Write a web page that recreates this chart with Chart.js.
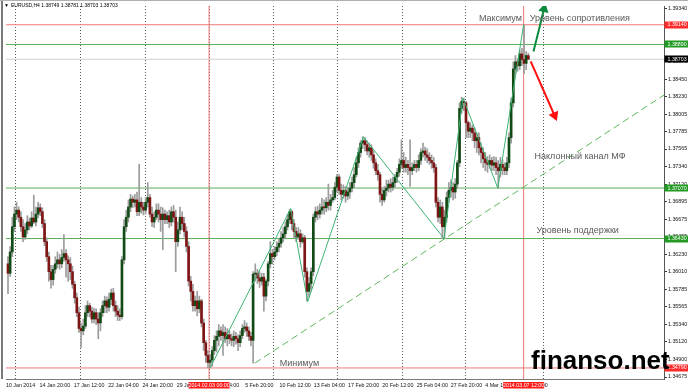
<!DOCTYPE html>
<html>
<head>
<meta charset="utf-8">
<script src="https://cdn.jsdelivr.net/npm/chart.js@4.4.1/dist/chart.umd.min.js"></script>
<style>
  html, body { margin: 0; padding: 0; background: #fff; }
  #wrap { width: 688px; height: 390px; position: relative; }
</style>
</head>
<body>
<div id="wrap"><canvas id="chart" width="688" height="390"></canvas></div>
<script>
// EURUSD H4, 10 Jan - 7 Mar 2014 (bar index = H4 candle number)
const symbol = 'EURUSD';
const timeframe = 'H4';

const openP = [
  1.3611,1.3599,1.3626,1.3658,1.3674,1.3679,1.3670,1.3658,1.3645,1.3654,
  1.3664,1.3659,1.3669,1.3664,1.3674,1.3682,1.3677,1.3662,1.3639,1.3620,
  1.3601,1.3591,1.3604,1.3611,1.3616,1.3611,1.3619,1.3624,1.3616,1.3611,
  1.3601,1.3585,1.3568,1.3549,1.3529,1.3526,1.3532,1.3549,1.3558,1.3551,
  1.3541,1.3549,1.3541,1.3536,1.3549,1.3558,1.3564,1.3556,1.3566,1.3574,
  1.3558,1.3551,1.3546,1.3544,1.3616,1.3658,1.3670,1.3683,1.3693,1.3689,
  1.3692,1.3677,1.3689,1.3683,1.3679,1.3689,1.3695,1.3674,1.3664,1.3670,
  1.3679,1.3674,1.3667,1.3674,1.3667,1.3672,1.3664,1.3677,1.3670,1.3639,
  1.3654,1.3670,1.3662,1.3652,1.3633,1.3589,1.3576,1.3558,1.3564,1.3554,
  1.3564,1.3536,1.3511,1.3495,1.3486,1.3489,1.3501,1.3514,1.3519,1.3526,
  1.3520,1.3524,1.3516,1.3521,1.3516,1.3514,1.3519,1.3516,1.3511,1.3520,
  1.3529,1.3531,1.3526,1.3519,1.3514,1.3598,1.3599,1.3593,1.3589,1.3594,
  1.3570,1.3589,1.3611,1.3624,1.3620,1.3626,1.3632,1.3637,1.3644,1.3649,
  1.3658,1.3667,1.3677,1.3662,1.3652,1.3645,1.3649,1.3639,1.3644,1.3601,
  1.3576,1.3586,1.3601,1.3670,1.3677,1.3674,1.3679,1.3683,1.3682,1.3689,
  1.3685,1.3692,1.3695,1.3708,1.3721,1.3704,1.3699,1.3704,1.3697,1.3702,
  1.3707,1.3714,1.3724,1.3739,1.3752,1.3764,1.3767,1.3762,1.3754,1.3758,
  1.3749,1.3739,1.3729,1.3724,1.3699,1.3692,1.3704,1.3707,1.3712,1.3708,
  1.3714,1.3721,1.3727,1.3737,1.3742,1.3733,1.3737,1.3733,1.3729,1.3733,
  1.3737,1.3733,1.3742,1.3752,1.3754,1.3749,1.3746,1.3742,1.3739,1.3733,
  1.3689,1.3670,1.3683,1.3658,1.3670,1.3695,1.3704,1.3708,1.3702,1.3712,
  1.3739,1.3808,1.3817,1.3815,1.3790,1.3779,1.3783,1.3777,1.3767,1.3771,
  1.3758,1.3752,1.3744,1.3739,1.3737,1.3742,1.3736,1.3739,1.3733,1.3729,
  1.3737,1.3733,1.3729,1.3739,1.3771,1.3815,1.3858,1.3867,1.3862,1.3877,
  1.3870,1.3865,1.38749
];
const highP = [
  1.3620,1.3633,1.3670,1.3683,1.3689,1.3683,1.3677,1.3667,1.3662,1.3672,
  1.3669,1.3677,1.3698,1.3683,1.3689,1.3687,1.3682,1.3667,1.3644,1.3626,
  1.3609,1.3609,1.3620,1.3626,1.3623,1.3629,1.3648,1.3629,1.3621,1.3619,
  1.3608,1.3589,1.3574,1.3556,1.3536,1.3541,1.3558,1.3564,1.3561,1.3556,
  1.3555,1.3554,1.3549,1.3554,1.3564,1.3570,1.3569,1.3574,1.3579,1.3580,
  1.3564,1.3558,1.3554,1.3620,1.3667,1.3679,1.3692,1.3699,1.3697,1.3699,
  1.3702,1.3737,1.3695,1.3689,1.3695,1.3714,1.3699,1.3683,1.3677,1.3687,
  1.3687,1.3683,1.3682,1.3679,1.3677,1.3679,1.3683,1.3685,1.3679,1.3664,
  1.3683,1.3677,1.3670,1.3658,1.3639,1.3595,1.3585,1.3570,1.3576,1.3570,
  1.3566,1.3541,1.3514,1.3501,1.3496,1.3506,1.3520,1.3526,1.3534,1.3531,
  1.3534,1.3531,1.3529,1.3526,1.3522,1.3526,1.3524,1.3521,1.3526,1.3534,
  1.3539,1.3536,1.3531,1.3524,1.3601,1.3611,1.3604,1.3601,1.3599,1.3599,
  1.3591,1.3614,1.3639,1.3629,1.3633,1.3639,1.3642,1.3652,1.3657,1.3664,
  1.3674,1.3680,1.3679,1.3667,1.3657,1.3657,1.3654,1.3649,1.3647,1.3606,
  1.3594,1.3606,1.3674,1.3683,1.3684,1.3687,1.3694,1.3692,1.3695,1.3712,
  1.3699,1.3704,1.3714,1.3724,1.3724,1.3712,1.3711,1.3709,1.3708,1.3714,
  1.3721,1.3733,1.3746,1.3758,1.3767,1.3772,1.3771,1.3767,1.3764,1.3762,
  1.3754,1.3744,1.3737,1.3727,1.3707,1.3709,1.3717,1.3717,1.3719,1.3721,
  1.3724,1.3732,1.3744,1.3768,1.3752,1.3746,1.3742,1.3768,1.3739,1.3742,
  1.3742,1.3749,1.3757,1.3764,1.3759,1.3757,1.3752,1.3749,1.3746,1.3737,
  1.3695,1.3692,1.3689,1.3679,1.3702,1.3714,1.3717,1.3714,1.3719,1.3742,
  1.3815,1.3822,1.3821,1.3817,1.3792,1.3790,1.3787,1.3783,1.3777,1.3777,
  1.3764,1.3758,1.3752,1.3747,1.3749,1.3746,1.3747,1.3746,1.3742,1.3746,
  1.3743,1.3739,1.3746,1.3777,1.3821,1.3867,1.3875,1.3871,1.3882,1.3884,
  1.3914,1.3880,1.38781
];
const lowP = [
  1.3573,1.3595,1.3620,1.3652,1.3667,1.3664,1.3652,1.3639,1.3642,1.3649,
  1.3654,1.3657,1.3662,1.3659,1.3669,1.3672,1.3657,1.3634,1.3614,1.3589,
  1.3580,1.3584,1.3599,1.3606,1.3604,1.3606,1.3614,1.3594,1.3589,1.3591,
  1.3580,1.3561,1.3544,1.3524,1.3505,1.3521,1.3529,1.3544,1.3544,1.3536,
  1.3536,1.3534,1.3516,1.3526,1.3544,1.3549,1.3549,1.3551,1.3559,1.3551,
  1.3544,1.3539,1.3539,1.3541,1.3611,1.3652,1.3664,1.3677,1.3682,1.3683,
  1.3672,1.3672,1.3675,1.3673,1.3674,1.3683,1.3670,1.3658,1.3657,1.3667,
  1.3664,1.3652,1.3629,1.3662,1.3662,1.3657,1.3659,1.3664,1.3601,1.3633,
  1.3649,1.3654,1.3645,1.3626,1.3583,1.3564,1.3551,1.3551,1.3545,1.3549,
  1.3531,1.3501,1.3486,1.3479,1.3479,1.3481,1.3496,1.3499,1.3507,1.3514,
  1.3495,1.3511,1.3507,1.3510,1.3507,1.3506,1.3509,1.3501,1.3506,1.3516,
  1.3524,1.3519,1.3514,1.3507,1.3485,1.3589,1.3586,1.3581,1.3584,1.3551,
  1.3564,1.3583,1.3606,1.3611,1.3616,1.3621,1.3626,1.3632,1.3639,1.3644,
  1.3654,1.3662,1.3654,1.3644,1.3639,1.3642,1.3632,1.3637,1.3594,1.3564,
  1.3569,1.3579,1.3596,1.3664,1.3667,1.3669,1.3674,1.3674,1.3677,1.3679,
  1.3679,1.3689,1.3692,1.3702,1.3699,1.3692,1.3694,1.3689,1.3692,1.3694,
  1.3702,1.3708,1.3721,1.3733,1.3746,1.3757,1.3754,1.3749,1.3746,1.3742,
  1.3732,1.3724,1.3717,1.3689,1.3685,1.3689,1.3697,1.3702,1.3702,1.3704,
  1.3708,1.3714,1.3722,1.3732,1.3727,1.3727,1.3724,1.3709,1.3724,1.3729,
  1.3727,1.3729,1.3737,1.3746,1.3742,1.3739,1.3737,1.3732,1.3727,1.3683,
  1.3664,1.3662,1.3643,1.3643,1.3664,1.3689,1.3695,1.3692,1.3694,1.3707,
  1.3734,1.3802,1.3805,1.3771,1.3771,1.3771,1.3767,1.3758,1.3752,1.3749,
  1.3739,1.3733,1.3729,1.3727,1.3732,1.3729,1.3729,1.3724,1.3707,1.3721,
  1.3724,1.3724,1.3724,1.3733,1.3764,1.3810,1.3852,1.3855,1.3857,1.3862,
  1.3852,1.3857,1.38703
];
const closeP = [
  1.3599,1.3626,1.3658,1.3674,1.3679,1.3670,1.3658,1.3645,1.3654,1.3664,
  1.3659,1.3669,1.3664,1.3674,1.3682,1.3677,1.3662,1.3639,1.3620,1.3601,
  1.3591,1.3604,1.3611,1.3616,1.3611,1.3619,1.3624,1.3616,1.3611,1.3601,
  1.3585,1.3568,1.3549,1.3529,1.3526,1.3532,1.3549,1.3558,1.3551,1.3541,
  1.3549,1.3541,1.3536,1.3549,1.3558,1.3564,1.3556,1.3566,1.3574,1.3558,
  1.3551,1.3546,1.3544,1.3616,1.3658,1.3670,1.3683,1.3693,1.3689,1.3692,
  1.3677,1.3689,1.3683,1.3679,1.3689,1.3695,1.3674,1.3664,1.3670,1.3679,
  1.3674,1.3667,1.3674,1.3667,1.3672,1.3664,1.3677,1.3670,1.3639,1.3654,
  1.3670,1.3662,1.3652,1.3633,1.3589,1.3576,1.3558,1.3564,1.3554,1.3564,
  1.3536,1.3511,1.3495,1.3486,1.3489,1.3501,1.3514,1.3519,1.3526,1.3520,
  1.3524,1.3516,1.3521,1.3516,1.3514,1.3519,1.3516,1.3511,1.3520,1.3529,
  1.3531,1.3526,1.3519,1.3514,1.3598,1.3599,1.3593,1.3589,1.3594,1.3570,
  1.3589,1.3611,1.3624,1.3620,1.3626,1.3632,1.3637,1.3644,1.3649,1.3658,
  1.3667,1.3677,1.3662,1.3652,1.3645,1.3649,1.3639,1.3644,1.3601,1.3576,
  1.3586,1.3601,1.3670,1.3677,1.3674,1.3679,1.3683,1.3682,1.3689,1.3685,
  1.3692,1.3695,1.3708,1.3721,1.3704,1.3699,1.3704,1.3697,1.3702,1.3707,
  1.3714,1.3724,1.3739,1.3752,1.3764,1.3767,1.3762,1.3754,1.3758,1.3749,
  1.3739,1.3729,1.3724,1.3699,1.3692,1.3704,1.3707,1.3712,1.3708,1.3714,
  1.3721,1.3727,1.3737,1.3742,1.3733,1.3737,1.3733,1.3729,1.3733,1.3737,
  1.3733,1.3742,1.3752,1.3754,1.3749,1.3746,1.3742,1.3739,1.3733,1.3689,
  1.3670,1.3683,1.3658,1.3670,1.3695,1.3704,1.3708,1.3702,1.3712,1.3739,
  1.3808,1.3817,1.3815,1.3790,1.3779,1.3783,1.3777,1.3767,1.3771,1.3758,
  1.3752,1.3744,1.3739,1.3737,1.3742,1.3736,1.3739,1.3733,1.3729,1.3737,
  1.3733,1.3729,1.3739,1.3771,1.3815,1.3858,1.3867,1.3862,1.3877,1.3870,
  1.3865,1.3875,1.38703
];

// price scale labels (right side)
const priceTicks = [1.39340,1.39120,1.38895,1.38670,1.38450,1.38230,1.38005,1.37785,1.37565,1.37340,1.37120,
                    1.36895,1.36675,1.36455,1.36230,1.36010,1.35785,1.35565,1.35340,1.35120,1.34900,1.34675];
// time scale labels, positions in bar index
const timeTickPos = [-0.93,14.68,30.60,46.57,62.50,78.47,94.40,110.32,126.30,142.22,158.15,174.07,190.05,205.97,221.94,237.87];
const timeLabels = ['10 Jan 2014','14 Jan 20:00','17 Jan 12:00','22 Jan 04:00','24 Jan 20:00','29 Jan 12:00','3 Feb 04:00',
                    '5 Feb 20:00','10 Feb 12:00','13 Feb 04:00','17 Feb 20:00','20 Feb 12:00','25 Feb 04:00','27 Feb 20:00',
                    '4 Mar 12:00','7 Mar 04:00'];
// weekly separators (dotted)
const weekGrid = [3.70,33.80,63.89,93.52,123.61,153.24,183.33,212.96,249.07];

// horizontal levels
const levelValues = [1.39140, 1.38890, 1.38703, 1.37070, 1.36430, 1.34790];
const levelKinds  = ['res', 'sup', 'bid', 'sup', 'sup', 'res'];
// vertical markers
const markerPos = [93.52, 239.81];
const markerLabels = ['2014.02.03 00:00', '2014.03.07 12:00'];

// zigzag (wave) points
const zigX = [94.0, 131.5, 139.4, 165.3, 202.8, 211.6, 227.8, 239.8];
const zigY = [1.3479, 1.3681, 1.3563, 1.3772, 1.3643, 1.3821, 1.3707, 1.3914];
// inclined channel line
const chanX = [114.8, 305.1];
const chanY = [1.34851, 1.38249];
// forecast arrows
const upX = [244.4, 249.3];
const upY = [1.3880, 1.3934];
const downX = [243.1, 254.2];
const downY = [1.38675, 1.3799];

const notes = [
  { text: 'Максимум', x: 219.0, y: 1.39215 },
  { text: 'Уровень сопротивления', x: 242.6, y: 1.39215 },
  { text: 'Наклонный канал МФ', x: 244.9, y: 1.37472 },
  { text: 'Уровень поддержки', x: 245.8, y: 1.36531 },
  { text: 'Минимум', x: 126.4, y: 1.34851 }
];

const X_MIN = -0.926, X_MAX = 305.09;
const Y_MIN = 1.346499, Y_MAX = 1.393776;
const FONT = '"Liberation Sans", Arial, sans-serif';
const levelColor = { res: '#f07878', sup: '#5aae5a', bid: '#cfcfcf' };
const boxColor = { res: '#ff2a2a', sup: '#239a23', bid: '#000000' };

const idx = closeP.map((_, i) => i);
const wickData = idx.map(i => ({ x: i, y: [lowP[i], highP[i]] }));
const bodyData = idx.map(i => ({ x: i, y: [openP[i], closeP[i]] }));

const datasets = [];
levelValues.forEach((v, k) => {
  datasets.push({
    type: 'line', order: 10, xAxisID: 'x', yAxisID: 'y',
    data: [{ x: X_MIN - 5, y: v }, { x: X_MAX + 5, y: v }],
    borderColor: levelColor[levelKinds[k]], borderWidth: 1, pointRadius: 0
  });
});
markerPos.forEach(p => {
  datasets.push({
    type: 'line', order: 10, xAxisID: 'x', yAxisID: 'y',
    data: [{ x: p, y: Y_MIN - 0.01 }, { x: p, y: Y_MAX + 0.01 }],
    borderColor: '#f07878', borderWidth: 1, pointRadius: 0
  });
});
datasets.push({
  type: 'bar', order: 8, xAxisID: 'x', yAxisID: 'y', data: wickData,
  backgroundColor: '#9c9c9c', barThickness: 1, grouped: false, borderWidth: 0
});
datasets.push({
  type: 'bar', order: 7, xAxisID: 'x', yAxisID: 'y', data: bodyData,
  backgroundColor: c => closeP[c.dataIndex] >= openP[c.dataIndex] ? '#114a14' : '#7e1515',
  barThickness: 2, grouped: false, borderWidth: 0, minBarLength: 1
});
datasets.push({
  type: 'line', order: 3, xAxisID: 'x', yAxisID: 'y',
  data: chanX.map((x, i) => ({ x, y: chanY[i] })),
  borderColor: '#5cb85c', borderWidth: 1, borderDash: [7, 4], pointRadius: 0
});
datasets.push({
  type: 'line', order: 2, xAxisID: 'x', yAxisID: 'y',
  data: zigX.map((x, i) => ({ x, y: zigY[i] })),
  borderColor: '#3cb371', borderWidth: 1, pointRadius: 0, tension: 0
});
datasets.push({
  type: 'line', order: 1, xAxisID: 'x', yAxisID: 'y',
  data: upX.map((x, i) => ({ x, y: upY[i] })),
  borderColor: '#0b8a3c', borderWidth: 2,
  pointRadius: [0, 4], pointStyle: 'triangle', pointRotation: [0, 13],
  pointBackgroundColor: '#0b8a3c', pointBorderColor: '#0b8a3c'
});
datasets.push({
  type: 'line', order: 1, xAxisID: 'x', yAxisID: 'y',
  data: downX.map((x, i) => ({ x, y: downY[i] })),
  borderColor: '#ff1010', borderWidth: 2,
  pointRadius: [0, 4], pointStyle: 'triangle', pointRotation: [0, 157],
  pointBackgroundColor: '#ff1010', pointBorderColor: '#ff1010'
});

const overlay = {
  id: 'overlay',
  afterDatasetsDraw(chart) {
    const { ctx, scales: { x, y } } = chart;
    ctx.save();
    ctx.font = '9px ' + FONT;
    ctx.fillStyle = '#5a5a5a';
    ctx.textAlign = 'left';
    ctx.textBaseline = 'middle';
    notes.forEach(n => ctx.fillText(n.text, x.getPixelForValue(n.x), y.getPixelForValue(n.y)));
    ctx.restore();
  },
  afterDraw(chart) {
    const { ctx, chartArea: a, scales: { x, y } } = chart;
    ctx.save();
    // frame
    ctx.fillStyle = '#7a7a7a';
    ctx.fillRect(1, 0, 2, a.bottom);
    ctx.fillStyle = '#b0b0b0';
    ctx.fillRect(0, 0, chart.width, 1);
    // price boxes on the right scale
    ctx.font = '5.3px ' + FONT;
    ctx.textBaseline = 'middle';
    ctx.textAlign = 'left';
    levelValues.forEach((v, k) => {
      const py = y.getPixelForValue(v);
      ctx.fillStyle = boxColor[levelKinds[k]];
      ctx.fillRect(a.right + 0.5, Math.round(py) - 3.5, 24, 7);
      ctx.fillStyle = '#fff';
      ctx.fillText(v.toFixed(5), a.right + 3.5, py);
    });
    // time boxes on the bottom scale
    ctx.textAlign = 'center';
    markerPos.forEach((p, k) => {
      const px = x.getPixelForValue(p);
      ctx.fillStyle = '#ff1a1a';
      ctx.fillRect(px - 20.5, a.bottom + 3, 41, 6.5);
      ctx.fillStyle = '#fff';
      ctx.fillText(markerLabels[k], px, a.bottom + 6.3);
    });
    // header
    const last = closeP.length - 1;
    ctx.textAlign = 'left';
    ctx.fillStyle = '#000';
    ctx.font = '5px ' + FONT;
    ctx.fillText('▼', 4, 6);
    ctx.fillText(`${symbol},${timeframe} ${openP[last].toFixed(5)} ${highP[last].toFixed(5)} ${lowP[last].toFixed(5)} ${closeP[last].toFixed(5)}`, 11, 6);
    // site watermark
    ctx.font = 'bold 26px ' + FONT;
    ctx.textBaseline = 'alphabetic';
    ctx.fillText('finanso.net', 531, 369);
    ctx.restore();
  }
};

const noPad = s => { s.paddingTop = 0; s.paddingBottom = 0; s.paddingLeft = 0; s.paddingRight = 0; };

new Chart(document.getElementById('chart'), {
  type: 'bar',
  data: { datasets },
  plugins: [overlay],
  options: {
    responsive: false,
    animation: false,
    events: [],
    layout: { padding: { top: 2, left: 3, right: 0, bottom: 0 } },
    plugins: { legend: { display: false }, tooltip: { enabled: false } },
    scales: {
      x: {
        type: 'linear', position: 'bottom', min: X_MIN, max: X_MAX, offset: false,
        afterBuildTicks: s => { s.ticks = timeTickPos.map(v => ({ value: v })); },
        afterFit: s => { s.height = 11; noPad(s); },
        grid: { display: true, drawOnChartArea: false, drawTicks: false, offset: false },
        border: { color: '#7a7a7a', width: 1 },
        ticks: {
          autoSkip: false, maxRotation: 0, minRotation: 0, align: 'start', padding: 3.5,
          color: '#111', font: { family: FONT, size: 5.3 },
          callback: (v, i) => timeLabels[i]
        }
      },
      xg: {
        type: 'linear', axis: 'x', position: 'top', min: X_MIN, max: X_MAX, offset: false,
        afterBuildTicks: s => { s.ticks = weekGrid.map(v => ({ value: v })); },
        afterFit: s => { s.height = 0; noPad(s); },
        grid: { color: '#5a5a5a', lineWidth: 1, drawTicks: false, offset: false },
        border: { display: false, dash: [1, 2] },
        ticks: { display: false }
      },
      y: {
        type: 'linear', position: 'right', min: Y_MIN, max: Y_MAX,
        afterBuildTicks: s => { s.ticks = priceTicks.map(v => ({ value: v })); },
        afterFit: s => { s.width = 24; noPad(s); },
        grid: { drawOnChartArea: false, drawTicks: true, tickLength: 3, color: '#333' },
        border: { color: '#555', width: 1 },
        ticks: {
          autoSkip: false, padding: 1, color: '#111',
          font: { family: FONT, size: 5.3 },
          callback: v => Number(v).toFixed(5)
        }
      }
    }
  }
});
</script>
</body>
</html>
